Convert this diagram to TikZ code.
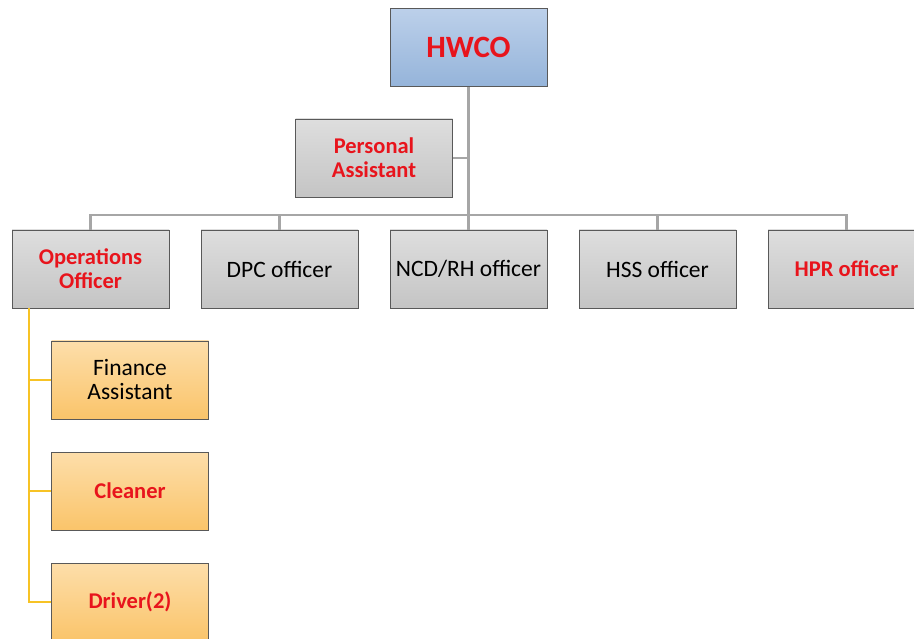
\documentclass[tikz,border=0pt]{standalone}
\usepackage{fontspec}
\setmainfont{Carlito}
\definecolor{txtred}{HTML}{E8141C}
\definecolor{bordc}{HTML}{595959}
\definecolor{linegray}{HTML}{A6A6A6}
\definecolor{lineyel}{HTML}{F7C325}
\tikzset{
  box/.style={draw=bordc, line width=0.9pt, minimum width=157pt, minimum height=78pt, inner sep=2pt, align=center, font=\fontsize{23.5}{24}\selectfont},
  graybox/.style={box, top color=black!13, bottom color=black!23},
  bluebox/.style={box, top color={rgb,255:red,188;green,208;blue,234}, bottom color={rgb,255:red,149;green,180;blue,218}},
  orangebox/.style={box, top color={rgb,255:red,253;green,222;blue,170}, bottom color={rgb,255:red,250;green,196;blue,106}},
  redtxt/.style={text=txtred, font=\fontsize{22.5}{24}\selectfont\bfseries},
  graylink/.style={draw=linegray, line width=2.6pt},
  yellink/.style={draw=lineyel, line width=2.6pt},
}
\begin{document}
\begin{tikzpicture}[x=1pt,y=-1pt]
\useasboundingbox (0,0) rectangle (914,639);
\clip (0,0) rectangle (914,639);
% nodes
\node[bluebox, redtxt, font=\fontsize{31}{34}\selectfont\bfseries] (hwco) at (468.5,47.5) {HWCO};
\node[graybox, redtxt] (pa) at (374,158) {Personal\\Assistant};
\node[graybox, redtxt] (ops) at (90.5,269) {Operations\\Officer};
\node[graybox] (dpc) at (279.5,269) {DPC officer};
\node[graybox] (ncd) at (468.5,269) {NCD/RH officer};
\node[graybox] (hss) at (657.5,269) {HSS officer};
\node[graybox, redtxt] (hpr) at (846.5,269) {HPR officer};
\node[orangebox] (fin) at (130,380) {Finance\\Assistant};
\node[orangebox, redtxt] (cln) at (130,491) {Cleaner};
\node[orangebox, redtxt] (drv) at (130,602) {Driver(2)};
% coordinates
\coordinate (bus) at (468.5,215);
\coordinate (yel) at (29,308);
% gray links
\draw[graylink] (hwco.south) -- (bus);
\draw[graylink] (pa.east) -- (pa.east -| hwco.south);
\draw[graylink] (ops.north) |- (bus) -| (hpr.north);
\draw[graylink] (dpc.north) -- (dpc.north |- bus);
\draw[graylink] (ncd.north) -- (bus);
\draw[graylink] (hss.north) -- (hss.north |- bus);
% yellow links
\draw[yellink] (yel) |- (drv.west);
\draw[yellink] (fin.west) -- (fin.west -| yel);
\draw[yellink] (cln.west) -- (cln.west -| yel);
\end{tikzpicture}
\end{document}
